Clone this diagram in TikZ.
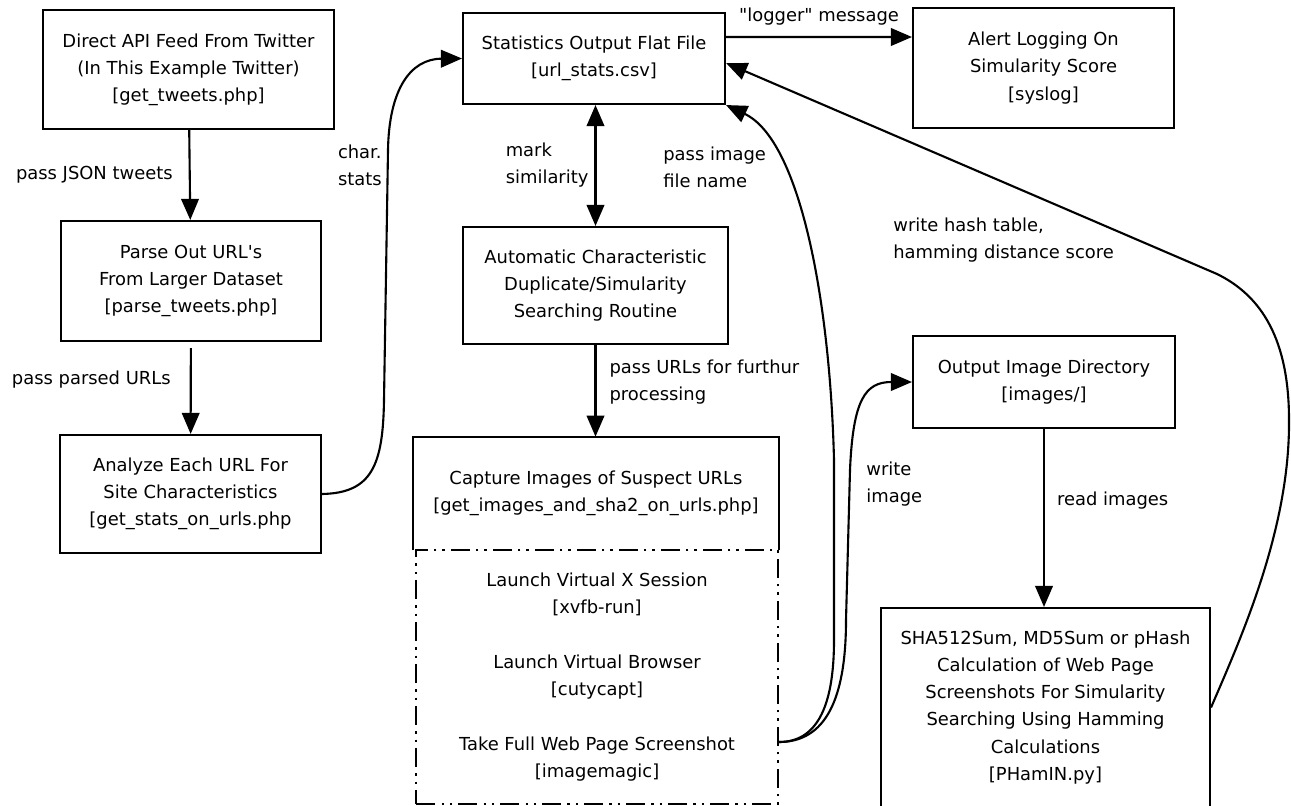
\documentclass[tikz,border=0pt]{standalone}
\usepackage{fontspec}
\setmainfont{DejaVu Sans}
\usetikzlibrary{arrows.meta,positioning}

\tikzset{
  box/.style={draw, line width=1.2pt, align=center, inner sep=0pt},
  txt/.style={align=center, inner sep=0pt},
  stepbox/.style={draw, line width=1.2pt, align=center, inner sep=0pt,
    dash pattern=on 11pt off 3.5pt on 1.2pt off 3.5pt on 1.2pt off 3.5pt},
  lbl/.style={inner sep=0pt, align=left},
  arr/.style={line width=1.2pt, -{Triangle[length=12pt,width=10pt]}},
  twoarr/.style={line width=1.2pt, {Triangle[length=12pt,width=10pt]}-{Triangle[length=12pt,width=10pt]}},
  every node/.style={font=\fontsize{10.2pt}{15.4pt}\selectfont}
}

\begin{document}
\begin{tikzpicture}[x=0.02cm, y=-0.02cm]
	\useasboundingbox (0,0) rectangle (1291,805);

	% left column
	\node[box, minimum width=5.82cm, minimum height=2.38cm] (tweets) at (188.5,69.5)
		{Direct API Feed From Twitter\\(In This Example Twitter)\\{[get\_tweets.php]}};
	\node[box, minimum width=5.2cm, minimum height=2.4cm] (parse) at (191,281)
		{Parse Out URL\textquotesingle s\\From Larger Dataset\\{[parse\_tweets.php]}};
	\node[box, minimum width=5.22cm, minimum height=2.36cm] (analyze) at (190.5,494)
		{Analyze Each URL For\\Site Characteristics\\{[get\_stats\_on\_urls.php}};

	% middle column
	\node[box, minimum width=5.24cm, minimum height=1.82cm] (stats) at (594,58.5)
		{Statistics Output Flat File\\{[url\_stats.csv]}};
	\node[box, minimum width=5.3cm, minimum height=2.34cm] (search) at (595.5,285.5)
		{Automatic Characteristic\\Duplicate/Simularity\\Searching Routine};
	\node[txt, minimum width=7.32cm, minimum height=2.26cm] (capture) at (596,493.5)
		{Capture Images of Suspect URLs\\{[get\_images\_and\_sha2\_on\_urls.php]}};
	\draw[line width=1.2pt] (capture.south west) -- (capture.north west) -- (capture.north east) -- (capture.south east);
	\node[stepbox, minimum width=7.24cm, minimum height=5.08cm] (steps) at (597,677)
		{Launch Virtual X Session\\{[xvfb-run]}\\[0.56cm]Launch Virtual Browser\\{[cutycapt]}\\[0.56cm]Take Full Web Page Screenshot\\{[imagemagic]}};
	\coordinate (shot) at (779,742);

	% right column
	\node[box, minimum width=5.22cm, minimum height=2.4cm] (alert) at (1043.5,68)
		{Alert Logging On\\Simularity Score\\{[syslog]}};
	\node[box, minimum width=5.24cm, minimum height=1.84cm] (outdir) at (1044,382)
		{Output Image Directory\\{[images/]}};
	\node[box, minimum width=6.58cm, minimum height=3.98cm] (hash) at (1045.5,707.5)
		{SHA512Sum, MD5Sum or pHash\\Calculation of Web Page\\Screenshots For Simularity\\Searching Using Hamming\\Calculations\\{[PHamIN.py]}};

	% straight arrows
	\draw[arr] (tweets) -- node[midway, left=0.32cm, lbl] {pass JSON tweets} (parse);
	\draw[arr, shorten <=0.12cm] (parse) -- node[pos=0.41, left=0.38cm, lbl] {pass parsed URLs} (analyze);
	\draw[twoarr] (stats.south -| search.north) -- node[midway, left=0.12cm, lbl] {mark\\similarity} (search.north);
	\draw[arr] (search) -- node[pos=0.4, right=0.26cm, lbl] {pass URLs for furthur\\processing} (search.south |- capture.north);
	\draw[arr] ([yshift=0.43cm]stats.east) -- node[midway, above=0.22cm, lbl] {\textquotedbl logger\textquotedbl{} message} ([yshift=0.62cm]alert.west);
	\draw[arr] (outdir) -- node[pos=0.4, right=0.24cm, lbl] {read images} (outdir.south |- hash.north);

	% curved arrows
	\draw[arr] (analyze.east) .. controls (372,493) and (383,465) .. (384,400)
		-- node[pos=0.94, left=0.1cm, lbl] {char.\\stats} (388,150)
		.. controls (389,90) and (410,59) .. (stats.west);
	\draw[arr] (shot) .. controls (815,742) and (834,710) .. (834,640)
		-- (834,460) .. controls (830,300) and (800,140) .. (stats.south east);
	\draw[arr] (shot) .. controls (825,742) and (846,700) .. (846,620)
		-- (850,470) .. controls (853,400) and (865,382) .. (outdir.west);
	\draw[arr] (hash.east) .. controls (1240,640) and (1290,530) .. (1289,420)
		.. controls (1289,340) and (1262,296) .. (1217,274) -- ([yshift=-0.09cm]stats.east);

	\node[lbl, anchor=west] (imgname) at (663,167) {pass image\\file name};
	\node[lbl, anchor=west] (writeimg) at (866,484) {write\\image};
	\node[lbl, anchor=west] (writehash) at (893,240) {write hash table,\\hamming distance score};
\end{tikzpicture}
\end{document}
